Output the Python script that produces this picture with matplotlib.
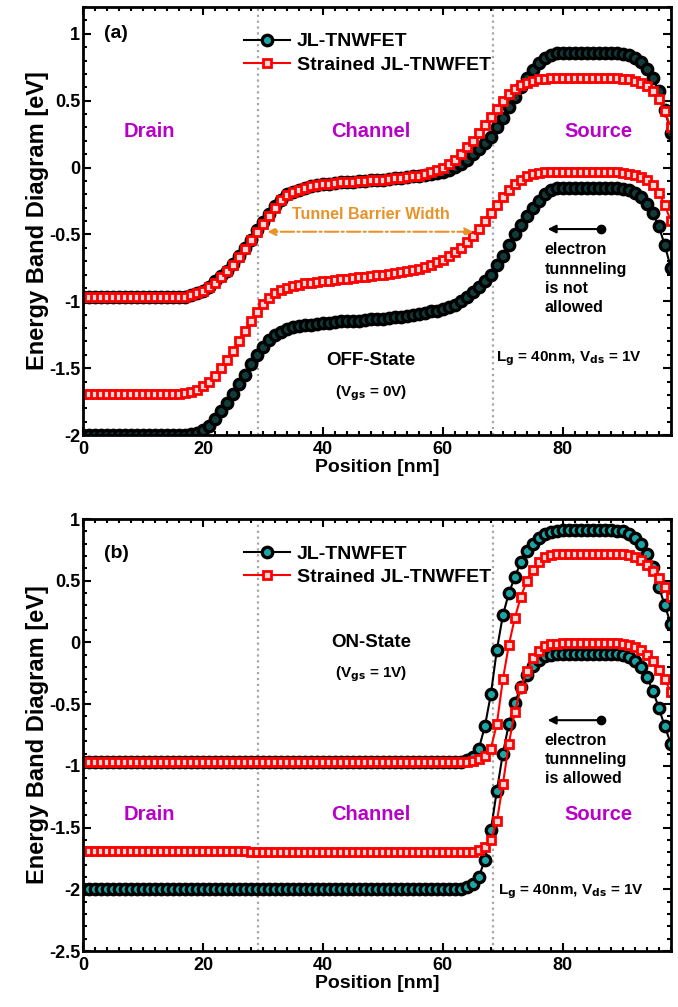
import numpy as np
import matplotlib
import matplotlib.pyplot as plt
from matplotlib.ticker import MultipleLocator
from matplotlib.lines import Line2D

matplotlib.use("Agg")

plt.rcParams['font.family'] = ['Liberation Sans', 'DejaVu Sans']
plt.rcParams['font.weight'] = 'bold'
plt.rcParams['axes.labelweight'] = 'bold'
plt.rcParams['mathtext.default'] = 'bf'

# 1 nm mesh along the nanowire
position = np.arange(0, 99)

# ---- (a) OFF-state band edges [eV]
ec_jl_off = [-0.97] * 17 + [
    -0.965, -0.955, -0.94, -0.92, -0.89, -0.85, -0.81, -0.77, -0.72, -0.66,
    -0.60, -0.54, -0.47, -0.41, -0.35, -0.29, -0.24, -0.20, -0.18, -0.165,
    -0.15, -0.14, -0.13, -0.125, -0.12, -0.115, -0.11, -0.11, -0.105, -0.10,
    -0.10, -0.095, -0.09, -0.09, -0.085, -0.08, -0.075, -0.07, -0.065, -0.06,
    -0.055, -0.045, -0.04, -0.03, -0.015, 0.005, 0.03, 0.06, 0.10, 0.14,
    0.18, 0.23, 0.30, 0.37, 0.45, 0.53, 0.60, 0.67, 0.73, 0.78,
    0.82, 0.845, 0.855] + [0.86] * 9 + [
    0.855, 0.85, 0.84, 0.82, 0.79, 0.74, 0.67, 0.57, 0.43, 0.26]

ev_jl_off = [-2.0] * 18 + [
    -1.995, -1.985, -1.965, -1.93, -1.88, -1.82, -1.76, -1.69, -1.62, -1.55,
    -1.47, -1.40, -1.34, -1.29, -1.255, -1.23, -1.21, -1.195, -1.185, -1.18,
    -1.175, -1.17, -1.165, -1.16, -1.155, -1.15, -1.15, -1.145, -1.145, -1.14,
    -1.135, -1.135, -1.13, -1.125, -1.12, -1.115, -1.11, -1.105, -1.095, -1.085,
    -1.075, -1.07, -1.06, -1.045, -1.025, -1.00, -0.97, -0.93, -0.89, -0.85,
    -0.80, -0.73, -0.66, -0.58, -0.50, -0.43, -0.36, -0.30, -0.25, -0.20,
    -0.17, -0.155] + [-0.15] * 9 + [
    -0.155, -0.16, -0.17, -0.19, -0.22, -0.27, -0.34, -0.44, -0.58, -0.75]

ec_st_off = [-0.97] * 17 + [
    -0.965, -0.955, -0.94, -0.92, -0.895, -0.86, -0.82, -0.775, -0.73, -0.67,
    -0.61, -0.545, -0.48, -0.42, -0.36, -0.30, -0.245, -0.205, -0.18, -0.165,
    -0.15, -0.14, -0.13, -0.125, -0.12, -0.115, -0.11, -0.11, -0.105, -0.10,
    -0.10, -0.095, -0.09, -0.09, -0.085, -0.08, -0.075, -0.07, -0.065, -0.06,
    -0.05, -0.035, -0.02, 0.00, 0.025, 0.06, 0.10, 0.15, 0.20, 0.26,
    0.32, 0.38, 0.44, 0.50, 0.55, 0.59, 0.615, 0.635, 0.65, 0.66,
    0.665, 0.67, 0.67] + [0.67] * 10 + [
    0.665, 0.66, 0.65, 0.635, 0.61, 0.57, 0.51, 0.42, 0.30]

ev_st_off = [-1.69] * 17 + [
    -1.685, -1.675, -1.66, -1.635, -1.60, -1.555, -1.50, -1.44, -1.37, -1.30,
    -1.225, -1.15, -1.08, -1.02, -0.975, -0.94, -0.915, -0.90, -0.885, -0.875,
    -0.865, -0.86, -0.855, -0.85, -0.845, -0.84, -0.835, -0.83, -0.825, -0.82,
    -0.815, -0.81, -0.805, -0.80, -0.795, -0.79, -0.78, -0.775, -0.765, -0.755,
    -0.74, -0.725, -0.71, -0.69, -0.665, -0.635, -0.60, -0.56, -0.51, -0.46,
    -0.40, -0.34, -0.28, -0.22, -0.17, -0.125, -0.09, -0.065, -0.05, -0.04,
    -0.035, -0.035, -0.035] + [-0.035] * 10 + [
    -0.04, -0.045, -0.055, -0.07, -0.095, -0.13, -0.19, -0.28, -0.40]

# ---- (b) ON-state band edges [eV]
ec_jl_on = [-0.97] * 63 + [
    -0.965, -0.955, -0.93, -0.86, -0.68, -0.42, -0.06, 0.22, 0.40, 0.53,
    0.65, 0.74, 0.80, 0.85, 0.88, 0.895, 0.905] + [0.91] * 9 + [
    0.905, 0.90, 0.88, 0.85, 0.80, 0.72, 0.61, 0.45, 0.30, 0.15]

ev_jl_on = [-2.0] * 63 + [
    -1.995, -1.985, -1.96, -1.90, -1.76, -1.52, -1.20, -0.90, -0.66, -0.49,
    -0.36, -0.26, -0.19, -0.14, -0.11, -0.10, -0.095] + [-0.09] * 9 + [
    -0.095, -0.10, -0.12, -0.15, -0.20, -0.28, -0.39, -0.53, -0.68, -0.82]

ec_st_on = [-0.97] * 64 + [
    -0.965, -0.96, -0.945, -0.92, -0.86, -0.66, -0.30, -0.02, 0.20, 0.37,
    0.50, 0.59, 0.65, 0.69, 0.705, 0.715] + [0.72] * 10 + [
    0.715, 0.71, 0.695, 0.67, 0.63, 0.58, 0.52, 0.45, 0.37]

ev_st_on = [-1.69] * 28 + [-1.70] * 37 + [
    -1.695, -1.685, -1.66, -1.60, -1.45, -1.15, -0.82, -0.56, -0.37, -0.23,
    -0.13, -0.07, -0.03, -0.015, -0.01] + [-0.005] * 10 + [
    -0.01, -0.02, -0.035, -0.06, -0.10, -0.15, -0.22, -0.30, -0.40]

gate_edges = [29.2, 68.4]

teal = '#1aa6a6'
magenta = '#b800c8'
orange = '#e8922a'

jl_style = dict(color='black', lw=1.5, marker='o', ms=7.5, mfc=teal,
                mec='black', mew=2.4, label='JL-TNWFET')
st_style = dict(color='red', lw=1.5, marker='s', ms=5.2, mfc='#ffd8d8',
                mec='red', mew=2.0, label='Strained JL-TNWFET')

fig = plt.figure(figsize=(6.78, 10.07), dpi=100)
ax_a = fig.add_axes([0.1224, 0.568, 0.867, 0.425])
ax_b = fig.add_axes([0.1224, 0.0556, 0.867, 0.429])


def style_axes(ax, ylo, yhi):
    ax.set_xlim(0, 98)
    ax.set_ylim(ylo, yhi)
    ax.xaxis.set_major_locator(MultipleLocator(20))
    ax.xaxis.set_minor_locator(MultipleLocator(2))
    ax.yaxis.set_major_locator(MultipleLocator(0.5))
    ax.yaxis.set_minor_locator(MultipleLocator(0.1))
    ax.tick_params(which='both', direction='in', top=True, right=True,
                   width=1.5, labelsize=13)
    ax.tick_params(axis='x', pad=4)
    ax.tick_params(axis='y', pad=2)
    ax.tick_params(which='major', length=6)
    ax.tick_params(which='minor', length=3)
    ax.yaxis.set_major_formatter(matplotlib.ticker.FuncFormatter(
        lambda v, p: ('%g' % v)))
    for s in ax.spines.values():
        s.set_linewidth(2)
    ax.set_xlabel('Position [nm]', fontsize=14, labelpad=1)
    ax.set_ylabel('Energy Band Diagram [eV]', fontsize=17, labelpad=0)
    for xg in gate_edges:
        ax.axvline(xg, color='0.65', ls=':', lw=1.6, zorder=0)
    handles = [Line2D([], [], **jl_style), Line2D([], [], **st_style)]
    ax.legend(handles=handles, loc='upper left', bbox_to_anchor=(0.26, 0.958),
              frameon=False, fontsize=14, handlelength=2.4, handletextpad=0.35,
              borderaxespad=0, labelspacing=0.3, numpoints=1)


# (a)  dense markers in the original hide the fill -> dark face here
dark_face = dict(mfc='#103c3c')
ax_a.plot(position, ec_jl_off, **{**jl_style, **dark_face})
ax_a.plot(position, ev_jl_off, **{**jl_style, **dark_face})
ax_a.plot(position, ec_st_off, **st_style)
ax_a.plot(position, ev_st_off, **st_style)
style_axes(ax_a, -2, 1.2)
ax_a.text(3.5, 1.0, '(a)', fontsize=14, va='center')
for lbl, xc in [('Drain', 11), ('Channel', 48), ('Source', 86)]:
    ax_a.text(xc, 0.27, lbl, color=magenta, fontsize=14.5, ha='center', va='center')
ax_a.text(48, -0.35, 'Tunnel Barrier Width', color=orange, fontsize=11.5,
          ha='center', va='center')
ax_a.annotate('', xy=(30.3, -0.48), xytext=(65.5, -0.48),
              arrowprops=dict(arrowstyle='<|-|>', color=orange, lw=1.5,
                              ls='-.', mutation_scale=12))
ax_a.annotate('', xy=(77, -0.46), xytext=(86.3, -0.46),
              arrowprops=dict(arrowstyle='-|>', color='black', lw=1.5,
                              mutation_scale=12, shrinkA=0))
ax_a.plot([86.3], [-0.46], 'o', color='black', ms=6)
ax_a.text(77, -0.56, 'electron\ntunnneling\nis not\nallowed', fontsize=11.5,
          ha='left', va='top', linespacing=1.35)
ax_a.text(48, -1.44, 'OFF-State', fontsize=13.5, ha='center', va='center')
ax_a.text(48, -1.69, '(V$_{gs}$ = 0V)', fontsize=11, ha='center', va='center')
ax_a.text(68.8, -1.43, 'L$_g$ = 40nm, V$_{ds}$ = 1V', fontsize=11,
          ha='left', va='center')

# (b)
ax_b.plot(position, ec_jl_on, **jl_style)
ax_b.plot(position, ev_jl_on, **jl_style)
ax_b.plot(position, ec_st_on, **st_style)
ax_b.plot(position, ev_st_on, **st_style)
style_axes(ax_b, -2.5, 1.0)
ax_b.text(3.5, 0.72, '(b)', fontsize=14, va='center')
for lbl, xc in [('Drain', 11), ('Channel', 48), ('Source', 86)]:
    ax_b.text(xc, -1.39, lbl, color=magenta, fontsize=14.5, ha='center', va='center')
ax_b.text(48, 0.0, 'ON-State', fontsize=13.5, ha='center', va='center')
ax_b.text(48, -0.26, '(V$_{gs}$ = 1V)', fontsize=11, ha='center', va='center')
ax_b.annotate('', xy=(77, -0.63), xytext=(86.3, -0.63),
              arrowprops=dict(arrowstyle='-|>', color='black', lw=1.5,
                              mutation_scale=12, shrinkA=0))
ax_b.plot([86.3], [-0.63], 'o', color='black', ms=6)
ax_b.text(77, -0.73, 'electron\ntunnneling\nis allowed', fontsize=11.5,
          ha='left', va='top', linespacing=1.35)
ax_b.text(69.2, -2.02, 'L$_g$ = 40nm, V$_{ds}$ = 1V', fontsize=11,
          ha='left', va='center')

fig.savefig('out.png', dpi=100)
